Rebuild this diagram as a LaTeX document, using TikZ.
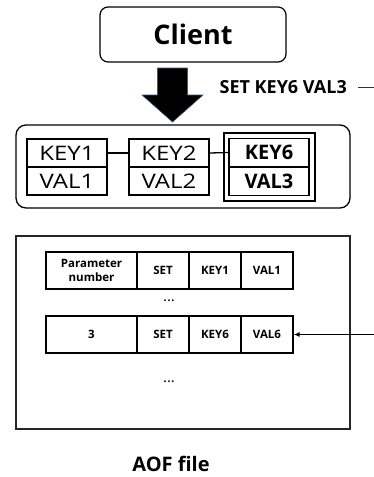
\documentclass[tikz,border=0pt]{standalone}
\usepackage{fontspec}
\setmainfont{Open Sans}
\newfontfamily\kvfont[FakeStretch=1.2]{Open Sans}
\usetikzlibrary{arrows.meta}
\begin{document}
\begin{tikzpicture}[x=1pt,y=-1pt,
  kvbox/.style={draw,line width=1.3pt,inner sep=0pt,minimum width=80pt,minimum height=28pt,font=\kvfont\fontsize{20}{22}\selectfont},
  kvbold/.style={draw,line width=1.3pt,inner sep=0pt,minimum width=80pt,minimum height=28pt,font=\fontsize{20}{22}\selectfont\bfseries},
  cell/.style={draw,line width=1.3pt,inner sep=0pt,minimum height=37pt,align=center,font=\fontsize{11.5}{14}\selectfont\bfseries},
  dotsstyle/.style={inner sep=0pt,font=\fontsize{15}{15}\selectfont},
  conn/.style={line width=1.3pt}]
\useasboundingbox[fill=white] (0,0) rectangle (374,477);
% client
\node[draw,line width=1.2pt,rounded corners=8pt,minimum width=186pt,minimum height=55pt,inner sep=0pt,font=\fontsize{27}{30}\selectfont\bfseries] (client) at (193,34.5) {Client};
% big arrow
\filldraw[fill=black,draw={rgb,255:red,60;green,90;blue,125},line width=0.6pt]
  (157.5,68) -- (187.5,68) -- (187.5,95) -- (203,95) -- (172.5,122) -- (142,95) -- (157.5,95) -- cycle;
% command
\node[inner sep=0pt,anchor=base east,font=\fontsize{18}{20}\selectfont\bfseries] (cmd) at (347,93) {SET KEY6 VAL3};
\coordinate (cmdend) at (374,87);
\draw[line width=1pt,black!80] (358,87) -- (cmdend);
% memory
\node[draw,line width=1.3pt,rounded corners=10pt,minimum width=334pt,minimum height=83pt,inner sep=0pt] (mem) at (183,166.5) {};
\node[kvbox] (key1) at (67,153) {KEY1};
\node[kvbox] (val1) at (67,181) {VAL1};
\node[kvbox] (key2) at (169,153) {KEY2};
\node[kvbox] (val2) at (169,181) {VAL2};
\node[draw,line width=1.3pt,minimum width=91pt,minimum height=68pt,inner sep=0pt] (dbl) at (269.5,167) {};
\node[kvbold] (key6) at (269,152.5) {KEY6};
\node[kvbold] (val3) at (269,181.5) {VAL3};
\draw[conn] (key1.east) -- (key2.west);
\draw[conn] (key2.east) -- (key6.west);
% AOF
\node[draw,line width=1.3pt,black!85,minimum width=334pt,minimum height=193pt,inner sep=0pt] (aof) at (183,332.5) {};
\node[cell,minimum width=91pt] (p1) at (91.5,270.5) {Parameter\\number};
\node[cell,minimum width=52pt] (s1) at (163,270.5) {SET};
\node[cell,minimum width=52pt] (k1) at (215,270.5) {KEY1};
\node[cell,minimum width=52pt] (v1) at (267,270.5) {VAL1};
\node[dotsstyle] (dots1) at (169,301) {...};
\node[cell,minimum width=91pt] (p2) at (91.5,334.5) {3};
\node[cell,minimum width=52pt] (s2) at (163,334.5) {SET};
\node[cell,minimum width=52pt] (k2) at (215,334.5) {KEY6};
\node[cell,minimum width=52pt] (v2) at (267,334.5) {VAL6};
\node[dotsstyle] (dots2) at (169,382) {...};
\coordinate (arrstart) at (374,334.5);
\draw[line width=0.9pt,-{Latex[length=6pt,width=5pt]}] (arrstart) -- (v2.east);
\node[font=\fontsize{20}{22}\selectfont\bfseries] (aoflabel) at (171,464) {AOF file};
\end{tikzpicture}
\end{document}
